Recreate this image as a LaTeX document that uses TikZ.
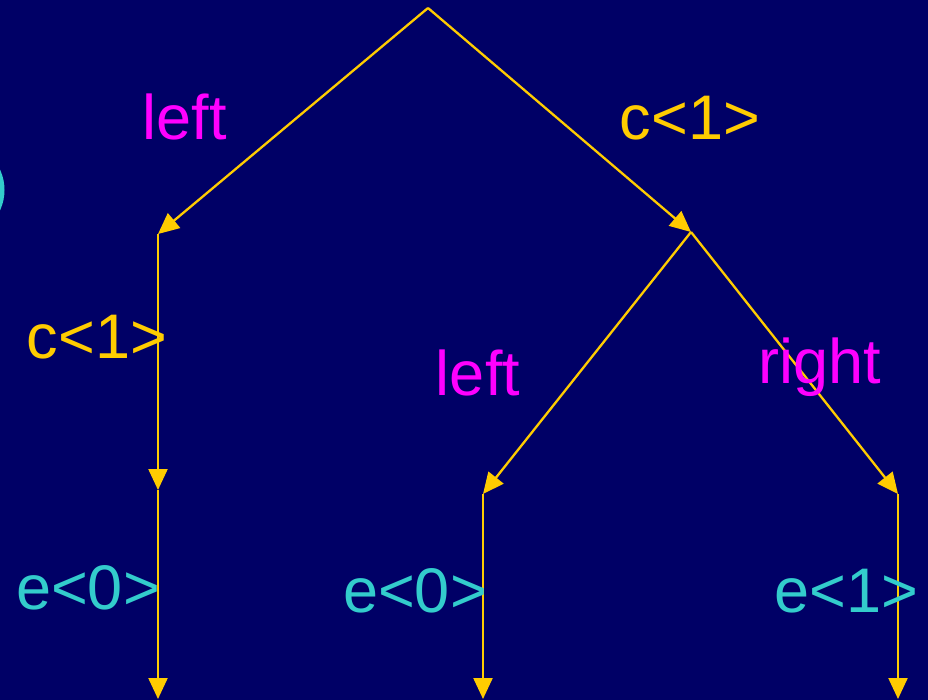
\documentclass[tikz,border=0pt]{standalone}
\usepackage{fontspec}
\setmainfont{Liberation Sans}
\usetikzlibrary{arrows.meta}
\definecolor{bgnavy}{HTML}{000066}
\definecolor{ylw}{HTML}{FFCC00}
\definecolor{mag}{HTML}{FF00FF}
\definecolor{cyn}{HTML}{33CCCC}
\begin{document}
\begin{tikzpicture}[x=1pt,y=-1pt,
  edge/.style={draw=ylw,line width=2.3pt,-{Triangle[length=21pt,width=19pt]}},
  lbl/.style={font=\fontsize{63}{70}\selectfont,anchor=base,inner sep=0pt},
  lblm/.style={lbl,text=mag},
  lbly/.style={lbl,text=ylw},
  lblc/.style={lbl,text=cyn}]
\fill[bgnavy] (0,0) rectangle (928,700);
\useasboundingbox (0,0) rectangle (928,700);
\begin{scope}
\clip (0,0) rectangle (928,700);
\draw[cyn,line width=5pt] (-44,190) circle (46);
\end{scope}
\coordinate (root) at (428,8);
\coordinate (lc) at (158,234);
\coordinate (rc) at (691,232);
\coordinate (lc2) at (158,490);
\coordinate (lcend) at (158,699);
\coordinate (mc) at (483,494);
\coordinate (mcend) at (483,699);
\coordinate (rr) at (898,494);
\coordinate (rrend) at (898,699);
\draw[edge] (root) -- (lc);
\draw[edge] (root) -- (rc);
\draw[edge] (lc) -- (lc2);
\draw[edge] (lc2) -- (lcend);
\draw[edge] (rc) -- (mc);
\draw[edge] (rc) -- (rr);
\draw[edge] (mc) -- (mcend);
\draw[edge] (rr) -- (rrend);
\node[lblm] (l1) at (185,140) {left};
\node[lbly] (c1) at (690,140) {c<1>};
\node[lbly] (c2) at (97,358) {c<1>};
\node[lblm] (l2) at (478,395) {left};
\node[lblm] (r1) at (820,383) {right};
\node[lblc] (e1) at (88,609) {e<0>};
\node[lblc] (e2) at (415,612) {e<0>};
\node[lblc] (e3) at (846,612) {e<1>};
\end{tikzpicture}
\end{document}
